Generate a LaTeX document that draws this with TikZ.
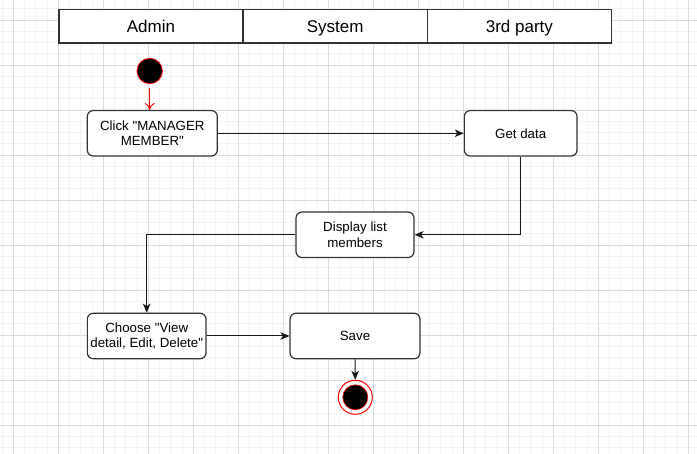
\documentclass[tikz,border=0pt]{standalone}
\usepackage{fontspec}
\setmainfont{Liberation Sans}
\usepackage{xcolor}
\usetikzlibrary{arrows.meta}

\definecolor{gridminor}{HTML}{F3F3F3}
\definecolor{gridmajor}{HTML}{DCDCDC}
\definecolor{edgegray}{HTML}{333333}

\begin{document}
\begin{tikzpicture}[x=1pt,y=-1pt,
  lane/.style={draw=edgegray,line width=1.3pt,fill=white,minimum width=184,minimum height=33.5,inner sep=0pt,text height=14pt,text depth=1.2pt,font=\fontsize{17}{20}\selectfont},
  act/.style={draw=edgegray,line width=1.2pt,fill=white,rounded corners=6pt,align=center,minimum height=45.5,inner sep=2pt,font=\fontsize{13.3}{15.7}\selectfont},
  flow/.style={draw=black!90,line width=1pt,-{Stealth[length=9pt,width=7.5pt,inset=2.5pt]}}]
\useasboundingbox (0,0) rectangle (697,454);
\fill[white] (0,0) rectangle (697,454);

\foreach \k in {-1,...,60} \draw[gridminor,line width=0.8pt] (13.3+11.25*\k,0) -- (13.3+11.25*\k,454);
\foreach \k in {-1,...,38} \draw[gridminor,line width=0.8pt] (0,20+11.25*\k) -- (697,20+11.25*\k);
\foreach \k in {0,...,15} \draw[gridmajor,line width=0.8pt] (13.3+45*\k,0) -- (13.3+45*\k,454);
\foreach \k in {0,...,9} \draw[gridmajor,line width=0.8pt] (0,20+45*\k) -- (697,20+45*\k);

\node[lane] (admin) at (151,26.3) {Admin};
\node[lane] (system) at (335.2,26.3) {System};
\node[lane] (third) at (519.4,26.3) {3rd party};

\node[circle,draw=red,fill=black,line width=0.8pt,minimum size=25.4,inner sep=0pt] (start) at (149.7,71) {};

\node[act,minimum width=130] (click) at (152.3,133.3) {Click \textquotedbl MANAGER\\MEMBER\textquotedbl};
\node[act,minimum width=112.7] (getdata) at (520.7,133.3) {Get data};
\node[act,minimum width=118] (display) at (355,234.8) {Display list\\members};
\node[act,minimum width=118.7] (choose) at (146.7,336) {Choose \textquotedbl View\\detail, Edit, Delete\textquotedbl};
\node[act,minimum width=130] (save) at (355,336) {Save};

\node[circle,draw=red,fill=white,line width=1pt,minimum size=34,inner sep=0pt] (stop) at (355.3,397.3) {};
\node[circle,draw=red,fill=black,line width=0.6pt,minimum size=25,inner sep=0pt] (stopdot) at (stop) {};

\draw[red,line width=0.9pt,-{To[length=7pt,width=10pt]}] ([yshift=-4pt]start.south) -- (start.south |- click.north);
\draw[flow] (click) -- (getdata);
\draw[flow] (getdata.south) |- (display.east);
\draw[flow] (display.west) -| (choose.north);
\draw[flow] (choose) -- (save);
\draw[flow] (save) -- (stop);
\end{tikzpicture}
\end{document}
